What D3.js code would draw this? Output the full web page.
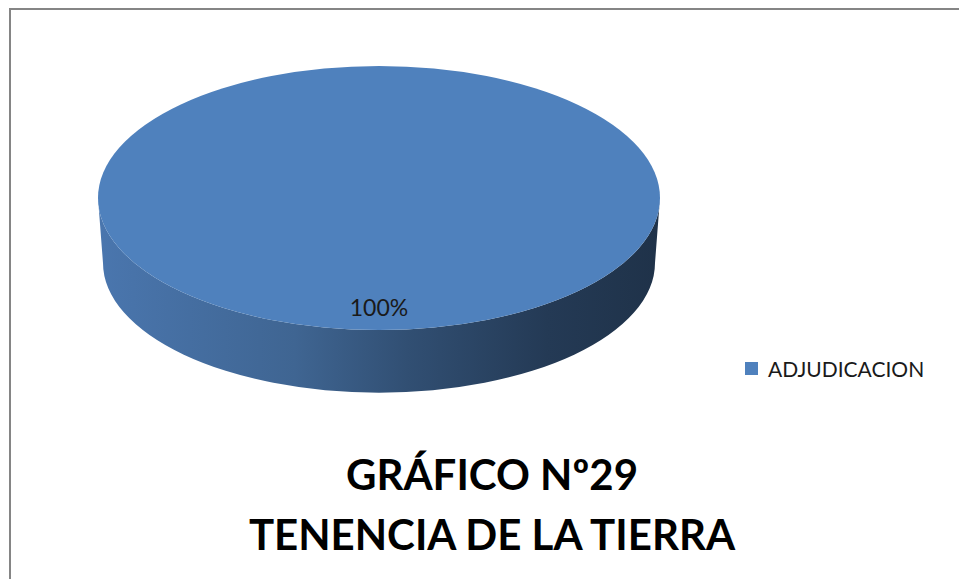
<!DOCTYPE html>
<html>
<head>
<meta charset="utf-8">
<script src="https://cdn.jsdelivr.net/npm/d3@7"></script>
<style>
  body { margin: 0; background: #fff; }
  svg { display: block; }
</style>
</head>
<body>
<svg id="chart" width="959" height="579"></svg>
<script>
// chart data
var categories = ["ADJUDICACION"];
var values = [100];
var titleLines = ["GRÁFICO Nº29", "TENENCIA DE LA TIERRA"];

var svg = d3.select("#chart");
var fontFam = "Lato, 'Open Sans', sans-serif";

// frame
svg.append("rect")
   .attr("x", 10).attr("y", 9)
   .attr("width", 980).attr("height", 600)
   .attr("fill", "#fff")
   .attr("stroke", "#858585")
   .attr("stroke-width", 2);

var color = d3.scaleOrdinal().domain(categories).range(["#4f81bd"]);
var pct = d3.format(".0%");
var total = d3.sum(values);
var pie = d3.pie().sort(null)(values);

// 3d pie geometry
var cx = 379, cy = 198, rx = 281, ry = 132, depth = 65, rxB = 276;

var defs = svg.append("defs");
var grad = defs.append("linearGradient")
   .attr("id", "sideGrad")
   .attr("gradientUnits", "userSpaceOnUse")
   .attr("x1", cx - rx).attr("x2", cx + rx)
   .attr("y1", 0).attr("y2", 0);
[[0, "#4a76ae"], [0.35, "#3f6592"], [0.55, "#314f73"], [0.8, "#243a55"], [1, "#1f3249"]]
   .forEach(function(s){
      grad.append("stop").attr("offset", s[0]).attr("stop-color", s[1]);
   });

var g = svg.append("g").attr("class", "pie");

pie.forEach(function(d, i){
   // side wall (front half only for full slice)
   var ryB = ry * rxB / rx;
   var side = "M" + (cx - rx) + "," + cy +
      " A" + rx + "," + ry + " 0 0 0 " + (cx + rx) + "," + cy +
      " L" + (cx + rxB) + "," + (cy + depth) +
      " A" + rxB + "," + ryB + " 0 0 1 " + (cx - rxB) + "," + (cy + depth) + " Z";
   g.append("path").attr("d", side).attr("fill", "url(#sideGrad)");

   // top face from arc generator, squashed into an ellipse
   var arc = d3.arc().innerRadius(0).outerRadius(rx);
   g.append("path")
    .attr("d", arc(d))
    .attr("transform", "translate(" + cx + "," + cy + ") scale(1," + (ry / rx) + ")")
    .attr("fill", color(categories[i]));

   g.append("text")
    .attr("x", cx).attr("y", cy + 118)
    .attr("text-anchor", "middle")
    .style("font-family", fontFam)
    .style("font-size", "23px")
    .attr("fill", "#1a1a1a")
    .text(pct(values[i] / total));
});

// legend
var legend = svg.append("g").attr("transform", "translate(745,362)");
categories.forEach(function(c, i){
   legend.append("rect").attr("x", 0).attr("y", i * 22)
      .attr("width", 13).attr("height", 13).attr("fill", color(c));
   legend.append("text").attr("x", 23).attr("y", i * 22 + 15)
      .style("font-family", fontFam).style("font-size", "21px")
      .attr("fill", "#1a1a1a").text(c);
});

// title
svg.selectAll("text.title").data(titleLines).enter()
   .append("text").attr("class", "title")
   .attr("x", 492)
   .attr("y", function(d, i){ return 490 + i * 60; })
   .attr("text-anchor", "middle")
   .style("font-family", fontFam)
   .style("font-size", "42px")
   .style("font-weight", "bold")
   .attr("fill", "#000")
   .text(function(d){ return d; });
</script>
</body>
</html>
